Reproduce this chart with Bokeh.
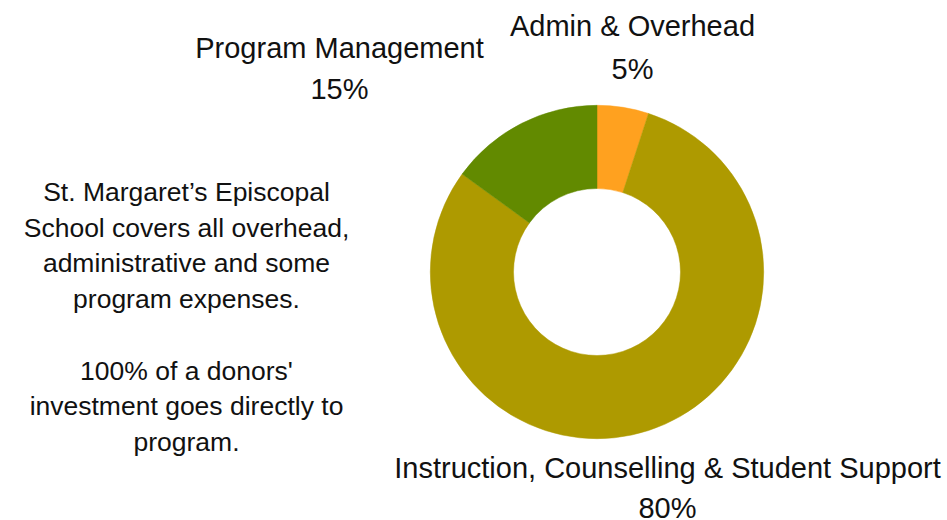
import math
from bokeh.plotting import figure
from bokeh.models import Range1d, ColumnDataSource
from bokeh.core.properties import value
from bokeh.embed import file_html
from bokeh.resources import INLINE

# ---- data ----
categories = ["Admin & Overhead", "Instruction, Counselling & Student Support", "Program Management"]
shares = [5, 80, 15]
colors = ["#FFA11F", "#AE9A00", "#628A00"]
note_lines = [
    "St. Margaret\u2019s Episcopal",
    "School covers all overhead,",
    "administrative and some",
    "program expenses.",
    "",
    "100% of a donors'",
    "investment goes directly to",
    "program.",
]

W, H = 947, 520
FONT = "Liberation Sans"

p = figure(width=W, height=H, output_backend="svg", toolbar_location=None,
           x_range=Range1d(0, W), y_range=Range1d(0, H), min_border=0,
           match_aspect=False)
p.xaxis.visible = False
p.yaxis.visible = False
p.grid.visible = False
p.outline_line_color = None
p.background_fill_color = "white"
p.border_fill_color = "white"

# donut
cx, cy = 596.5, H - 271.5
total = float(sum(shares))
starts, ends = [], []
cum = 0.0
for s in shares:
    starts.append(math.pi / 2 - 2 * math.pi * cum / total)
    cum += s
    ends.append(math.pi / 2 - 2 * math.pi * cum / total)
src = ColumnDataSource(dict(start=starts, end=ends, color=colors))
p.annular_wedge(x=cx, y=cy, inner_radius=83.5, outer_radius=166.7,
                inner_radius_units="screen", outer_radius_units="screen",
                start_angle="start", end_angle="end", direction="clock",
                fill_color="color", line_color="color", line_width=0.5, source=src)

# slice labels (name line, percent line), positions in px from top
label_pos = {
    "Admin & Overhead": (632, 25, 68),
    "Instruction, Counselling & Student Support": (667, 467, 507),
    "Program Management": (339, 47, 88),
}
lx, ly, lt = [], [], []
for c, s in zip(categories, shares):
    x, y1, y2 = label_pos[c]
    lx += [x, x]
    ly += [H - y1, H - y2]
    lt += [c, f"{s}%"]
p.text(x=lx, y=ly, text=lt, text_font=value(FONT), text_font_size="29px",
       text_align="center", text_baseline="alphabetic", text_color="#111111")

# note paragraph
nx, ny, nt = [], [], []
base = 191.5
for i, t in enumerate(note_lines):
    if t:
        nx.append(186)
        ny.append(H - (base + i * 35.7))
        nt.append(t)
p.text(x=nx, y=ny, text=nt, text_font=value(FONT), text_font_size="26.5px",
       text_align="center", text_baseline="alphabetic", text_color="#111111")

open("out.html", "w").write(file_html(p, INLINE))
